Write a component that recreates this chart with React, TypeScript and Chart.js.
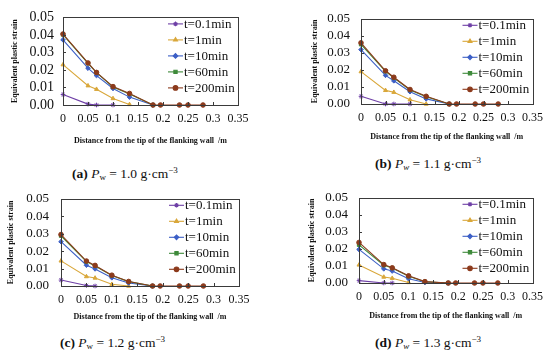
import React, { useEffect, useRef } from 'react';
import { Chart, registerables } from 'chart.js';
import { drawPoint } from 'chart.js/helpers';
Chart.register(...registerables);

// x positions of the measured nodes (m)
const xNodes = [0, 0.05, 0.067, 0.1, 0.133, 0.18, 0.195, 0.233, 0.25, 0.28];
const seriesNames = ['t=0.1min', 't=1min', 't=10min', 't=60min', 't=200min'];
const seriesColors = ['#6E3FA6', '#D9A73A', '#3C5FC6', '#3E8A3A', '#8C3A1C'];
const seriesMarkers = ['star', 'triangle', 'rectRot', 'rect', 'circle'];

const xTickValues = [0, 0.05, 0.1, 0.15, 0.2, 0.25, 0.3, 0.35];
const yTickValues = [0, 0.01, 0.02, 0.03, 0.04, 0.05];

// (a) Pw = 1.0
const a_t01 = [0.006, 0.0005, 0, 0];
const a_t1 = [0.023, 0.011, 0.009, 0.0037, 0.0003];
const a_t10 = [0.0372, 0.021, 0.0168, 0.0094, 0.0045, 0];
const a_t60 = [0.0402, 0.0238, 0.0185, 0.0103, 0.0063, 0];
const a_t200 = [0.0405, 0.024, 0.0186, 0.0105, 0.0066, 0, 0, 0, 0, 0];

// (b) Pw = 1.1
const b_t01 = [0.0045, 0, 0, 0];
const b_t1 = [0.019, 0.008, 0.0069, 0.0025, 0];
const b_t10 = [0.0319, 0.0168, 0.0136, 0.0072, 0.003, 0];
const b_t60 = [0.035, 0.0192, 0.0154, 0.0082, 0.0042, 0];
const b_t200 = [0.0359, 0.0195, 0.0157, 0.0085, 0.0045, 0, 0, 0, 0, 0];

// (c) Pw = 1.2
const c_t01 = [0.0034, 0.0003, 0];
const c_t1 = [0.0144, 0.0054, 0.0046, 0.001, 0];
const c_t10 = [0.0254, 0.0119, 0.0098, 0.0047, 0.0017, 0];
const c_t60 = [0.0288, 0.014, 0.0115, 0.006, 0.0025, 0];
const c_t200 = [0.0295, 0.0143, 0.0118, 0.0062, 0.0026, 0, 0, 0, 0, 0];

// (d) Pw = 1.3
const d_t01 = [0.0014, 0, 0];
const d_t1 = [0.0106, 0.0035, 0.0028, 0.0003];
const d_t10 = [0.0197, 0.0083, 0.007, 0.0025, 0.0003, 0];
const d_t60 = [0.0224, 0.0104, 0.0088, 0.0039, 0.0007, 0];
const d_t200 = [0.0238, 0.0108, 0.0089, 0.0042, 0.0008, 0, 0, 0, 0, 0];

const FONT = "'Liberation Serif', 'Times New Roman', serif";
const W = 275;
const H = 150;

type Cfg = {
  key: string;
  series: number[][];
  left: number; right: number; top: number; bottom: number;
  yTitleX: number; xTitleY: number; yFont: number; yPad: number;
  cx: number; cy: number; capX: number; capY: number;
  label: string; pw: string; italicW: boolean;
};

const panels: Cfg[] = [
  { key: 'a', series: [a_t01, a_t1, a_t10, a_t60, a_t200], left: 63, right: 238, top: 11, bottom: 105,
    yTitleX: 15, xTitleY: 141, yFont: 14, yPad: 9, cx: 0, cy: 0, capX: 72, capY: 170, label: '(a)', pw: '1.0', italicW: false },
  { key: 'b', series: [b_t01, b_t1, b_t10, b_t60, b_t200], left: 86, right: 260, top: 12, bottom: 104,
    yTitleX: 40, xTitleY: 137, yFont: 13, yPad: 11, cx: 275, cy: 0, capX: 100, capY: 160, label: '(b)', pw: '1.1', italicW: true },
  { key: 'c', series: [c_t01, c_t1, c_t10, c_t60, c_t200], left: 61, right: 239, top: 8, bottom: 107,
    yTitleX: 11, xTitleY: 138, yFont: 13, yPad: 12, cx: 0, cy: 179, capX: 60, capY: 160, label: '(c)', pw: '1.2', italicW: false },
  { key: 'd', series: [d_t01, d_t1, d_t10, d_t60, d_t200], left: 84, right: 260, top: 10, bottom: 104,
    yTitleX: 37, xTitleY: 137, yFont: 13, yPad: 11, cx: 275, cy: 179, capX: 100, capY: 160, label: '(d)', pw: '1.3', italicW: true },
];

const decorPlugin = {
  id: 'decor',
  afterDraw(chart: any) {
    const { ctx, chartArea: ca, scales } = chart;
    ctx.save();
    // frame
    ctx.strokeStyle = '#3a3a3a';
    ctx.lineWidth = 1;
    ctx.strokeRect(Math.round(ca.left) + 0.5, Math.round(ca.top) + 0.5, Math.round(ca.right - ca.left), Math.round(ca.bottom - ca.top));
    // inside ticks
    ctx.beginPath();
    yTickValues.forEach((v) => {
      const y = Math.round(scales.y.getPixelForValue(v)) + 0.5;
      ctx.moveTo(ca.left, y);
      ctx.lineTo(ca.left + 3, y);
    });
    xTickValues.forEach((v) => {
      const x = Math.round(scales.x.getPixelForValue(v)) + 0.5;
      ctx.moveTo(x, ca.bottom);
      ctx.lineTo(x, ca.bottom - 3);
    });
    ctx.stroke();
    // legend
    const x0 = ca.right - 70;
    ctx.font = `13px ${FONT}`;
    ctx.textBaseline = 'middle';
    ctx.textAlign = 'left';
    seriesNames.forEach((name, i) => {
      const y = ca.top + 6.5 + i * 16;
      ctx.strokeStyle = seriesColors[i];
      ctx.fillStyle = seriesColors[i];
      ctx.lineWidth = 1.1;
      ctx.beginPath();
      ctx.moveTo(x0, y);
      ctx.lineTo(x0 + 15, y);
      ctx.stroke();
      drawPoint(ctx, { pointStyle: seriesMarkers[i] as any, radius: 2.3, rotation: 0, borderWidth: 1 }, x0 + 7.5, y);
      ctx.fillStyle = '#111';
      ctx.fillText(name, x0 + 16, y + 0.5);
    });
    ctx.restore();
  },
};

function Panel({ cfg }: { cfg: Cfg }) {
  const ref = useRef<HTMLCanvasElement>(null);
  useEffect(() => {
    const datasets = cfg.series.map((vals, i) => ({
      label: seriesNames[i],
      data: vals.map((v, j) => ({ x: xNodes[j], y: v })),
      borderColor: seriesColors[i],
      backgroundColor: seriesColors[i],
      borderWidth: 1.1,
      pointStyle: seriesMarkers[i],
      pointRadius: 2.3,
      pointBorderWidth: 1,
      tension: 0,
      clip: false as any,
      order: 5 - i,
    }));
    const chart = new Chart(ref.current!, {
      type: 'line',
      data: { datasets },
      plugins: [decorPlugin],
      options: {
        responsive: false,
        animation: false,
        layout: { padding: { left: 0, top: cfg.top, right: W - cfg.right, bottom: 0 } },
        plugins: { legend: { display: false }, tooltip: { enabled: false } },
        scales: {
          x: {
            type: 'linear',
            min: 0,
            max: 0.35,
            grid: { display: false, drawTicks: false },
            border: { display: false },
            afterFit: (s: any) => { s.height = H - cfg.bottom; },
            afterBuildTicks: (s: any) => { s.ticks = xTickValues.map((v) => ({ value: v })); },
            ticks: {
              padding: 7,
              color: '#111',
              font: { family: FONT, size: 12 },
              maxRotation: 0,
              autoSkip: false,
              callback: (v: any) => String(+Number(v).toFixed(2)),
            },
            title: {
              display: true,
              text: 'Distance from the tip of the flanking wall  /m',
              color: '#111',
              font: { family: FONT, size: 8, weight: 'bold' },
              padding: { top: 0, bottom: 145.2 - cfg.xTitleY },
            },
          },
          y: {
            type: 'linear',
            min: 0,
            max: 0.05,
            grid: { display: false, drawTicks: false },
            border: { display: false },
            afterFit: (s: any) => { s.width = cfg.left; },
            afterBuildTicks: (s: any) => { s.ticks = yTickValues.map((v) => ({ value: v })); },
            ticks: {
              padding: cfg.yPad,
              color: '#111',
              autoSkip: false,
              font: { family: FONT, size: cfg.yFont },
              callback: (v: any) => Number(v).toFixed(2),
            },
            title: {
              display: true,
              text: 'Equivalent plastic strain',
              color: '#111',
              font: { family: FONT, size: 8, weight: 'bold' },
              padding: { top: cfg.yTitleX - 4.8, bottom: 0 },
            },
          },
        },
      },
    } as any);
    return () => chart.destroy();
  }, [cfg]);

  return (
    <div style={{ position: 'absolute', left: cfg.cx, top: cfg.cy, width: W, height: 179 }}>
      <canvas ref={ref} width={W} height={H} style={{ display: 'block', width: W, height: H }} />
      <div
        style={{
          position: 'absolute',
          left: cfg.capX,
          top: cfg.capY - 9,
          height: 18,
          lineHeight: '18px',
          whiteSpace: 'nowrap',
          fontFamily: FONT,
          fontSize: '13.5px',
          color: '#111',
        }}
      >
        <b>{cfg.label}</b> <i>P</i>
        <sub style={{ fontSize: '9px', fontStyle: cfg.italicW ? 'italic' : 'normal', verticalAlign: '-2px' }}>w</sub>
        {' = ' + cfg.pw + ' g·cm'}
        <sup style={{ fontSize: '9px', verticalAlign: '5px' }}>−3</sup>
      </div>
    </div>
  );
}

export default function App() {
  return (
    <div style={{ position: 'absolute', left: 0, top: 0, width: 550, height: 358, background: '#fff', overflow: 'hidden' }}>
      {panels.map((p) => (
        <Panel key={p.key} cfg={p} />
      ))}
    </div>
  );
}
